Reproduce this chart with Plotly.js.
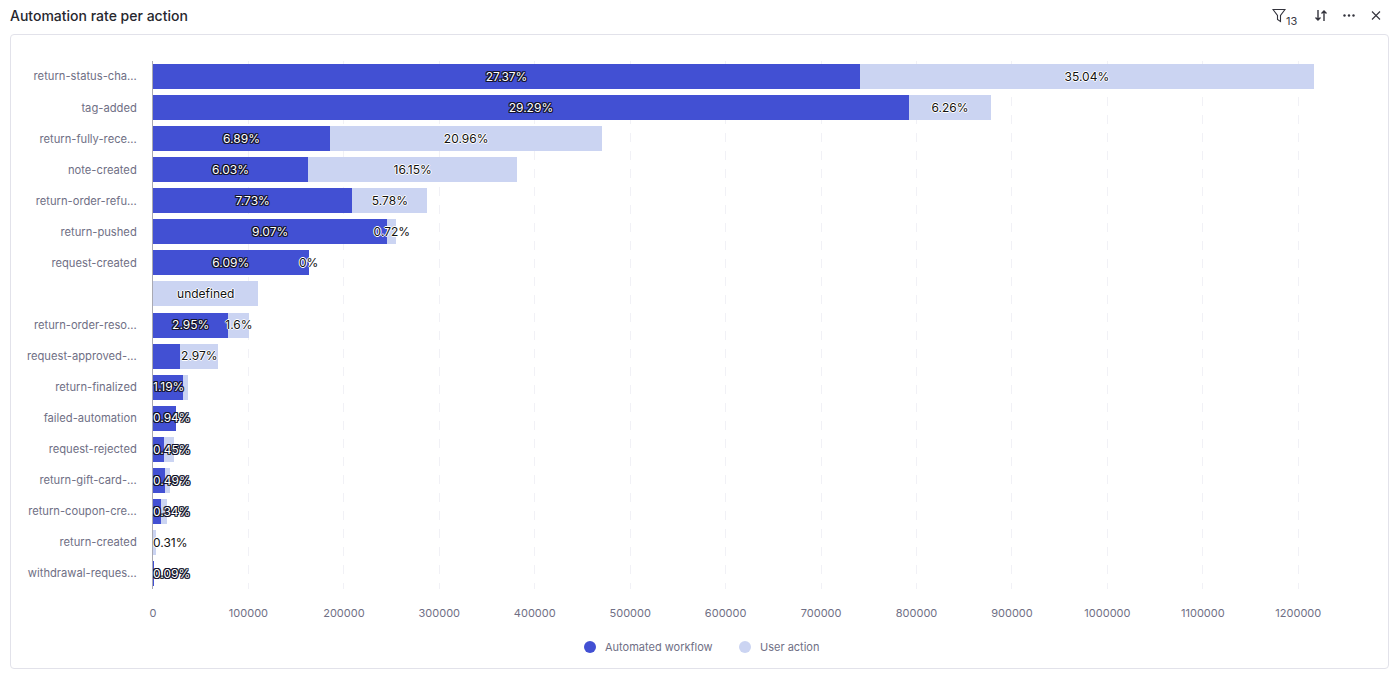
<!DOCTYPE html>
<html>
<head>
<meta charset="utf-8">
<script src="https://cdn.plot.ly/plotly-3.0.1.min.js"></script>
<style>
    html, body { margin: 0; padding: 0; background: #fff; font-family: Inter, sans-serif; }
    #card { position: absolute; left: 10px; top: 34px; width: 1379px; height: 635px; border: 1px solid #e2e2ea; border-radius: 4px; box-sizing: border-box; }
    #myDiv { position: absolute; left: 0; top: 0; width: 1395px; height: 676px; }
    .tool { position: absolute; top: 8px; }
    #count { position: absolute; left: 1286px; top: 14px; font-size: 11px; color: #3a3a44; }
    .textpoint text { transform: translateY(1.3px); }
</style>
</head>
<body>
<div id="card"></div>
<div id="myDiv"></div>
<svg class="tool" style="left:1272px" width="14" height="15" viewBox="0 0 14 15" fill="none" stroke="#33333c" stroke-width="1.1"><path d="M1 1.5h12L8.5 7.5v6l-3-2v-4z"/></svg>
<span id="count">13</span>
<svg class="tool" style="left:1314px" width="14" height="15" viewBox="0 0 14 15" fill="none" stroke="#33333c" stroke-width="1.4"><path d="M4 2v10M1.5 9.5 4 12l2.5-2.5M10 13V3M7.5 5.5 10 3l2.5 2.5"/></svg>
<svg class="tool" style="left:1342px" width="14" height="15" viewBox="0 0 14 15" fill="#33333c"><circle cx="2.5" cy="7.5" r="1.2"/><circle cx="7" cy="7.5" r="1.2"/><circle cx="11.5" cy="7.5" r="1.2"/></svg>
<svg class="tool" style="left:1369px" width="14" height="15" viewBox="0 0 14 15" fill="none" stroke="#33333c" stroke-width="1.1"><path d="M3 3.5l8 8M11 3.5l-8 8"/></svg>
<script>
const categories = ['return-status-changed', 'tag-added', 'return-fully-received', 'note-created', 'return-order-refunded',
    'return-pushed', 'request-created', 'undefined', 'return-order-resolved', 'request-approved', 'return-finalized',
    'failed-automation', 'request-rejected', 'return-gift-card', 'return-coupon-created', 'return-created', 'withdrawal-requested'];
const tick_labels = ['return-status-cha...', 'tag-added', 'return-fully-rece...', 'note-created', 'return-order-refu...',
    'return-pushed', 'request-created', '', 'return-order-reso...', 'request-approved-...', 'return-finalized',
    'failed-automation', 'request-rejected', 'return-gift-card-...', 'return-coupon-cre...', 'return-created', 'withdrawal-reques...'];
const automated = [740800, 792000, 185500, 162500, 209000, 245500, 163000, 0, 79000, 28500, 31500, 24500, 12000, 13000, 8900, 0, 800];
const user_action = [475400, 86000, 285200, 219200, 78400, 9500, 0, 110500, 22000, 40100, 5500, 0, 9500, 5300, 6100, 3500, 0];
const automated_labels = ['27.37%', '29.29%', '6.89%', '6.03%', '7.73%', '9.07%', '6.09%', '', '2.95%', '', '1.19%', '0.94%', '0.45%', '0.49%', '0.34%', '', '0.09%'];
const user_labels = ['35.04%', '6.26%', '20.96%', '16.15%', '5.78%', '0.72%', '0%', 'undefined', '1.6%', '2.97%', '', '', '', '', '', '0.31%', ''];

const BLUE = '#4250d3';
const LIGHT = '#cbd4f2';
const GREY = '#6f6f85';
const outline = c => `-1px 0 0 ${c}, 1px 0 0 ${c}, 0 -1px 0 ${c}, 0 1px 0 ${c}, -1px -1px 0 ${c}, 1px 1px 0 ${c}, 1px -1px 0 ${c}, -1px 1px 0 ${c}`;
const thin_outline = c => `-1px 0 0 ${c}, 1px 0 0 ${c}, 0 -1px 0 ${c}, 0 1px 0 ${c}`;

// a label too wide for its bar sits against the axis instead of running past it
const MIN_CENTER = 19000;
function label_trace(labels, starts, widths, color, shadow) {
    const centers = widths.map((w, i) => starts[i] + w / 2);
    return {
        type: 'scatter', mode: 'text', showlegend: false, hoverinfo: 'skip', cliponaxis: false,
        y: categories,
        x: centers.map(c => c < MIN_CENTER ? 0 : c),
        text: labels,
        textposition: centers.map(c => c < MIN_CENTER ? 'middle right' : 'middle center'),
        textfont: { family: 'Inter', size: 12, color: color, shadow: shadow }
    };
}
function legend_trace(name, color) {
    return { type: 'scatter', mode: 'markers', name: name, x: [null], y: [null], marker: { color: color, size: 12, symbol: 'circle' } };
}

var data = [
    { type: 'bar', orientation: 'h', name: 'Automated workflow', y: categories, x: automated, marker: { color: BLUE }, showlegend: false },
    { type: 'bar', orientation: 'h', name: 'User action', y: categories, x: user_action, marker: { color: LIGHT }, showlegend: false },
    label_trace(automated_labels, automated.map(() => 0), automated, '#ffffff', outline('#14142a')),
    label_trace(user_labels, automated, user_action, '#111111', thin_outline('#ffffff')),
    legend_trace('Automated workflow', BLUE),
    legend_trace('User action', LIGHT)
];

var layout = {
    width: 1395,
    height: 676,
    paper_bgcolor: 'rgba(0,0,0,0)',
    plot_bgcolor: 'rgba(0,0,0,0)',
    barmode: 'stack',
    bargap: 0.195,
    margin: { l: 152.5, r: 48.75, t: 61, b: 87, pad: 0 },
    title: { text: 'Automation rate per action', x: 10 / 1395, xanchor: 'left', y: 1 - 16 / 676, yanchor: 'middle', font: { family: 'Inter', size: 14, weight: 500, color: '#27272e' } },
    font: { family: 'Inter', size: 11, color: GREY },
    xaxis: {
        range: [0, 1250000],
        tickmode: 'linear', tick0: 0, dtick: 100000, tickformat: 'd',
        showgrid: true, gridcolor: '#f1f1f6', griddash: 'dash', gridwidth: 1,
        zeroline: false, showline: false, ticks: '', ticklabelstandoff: 16,
        tickfont: { family: 'Inter', size: 11, color: GREY }
    },
    yaxis: {
        type: 'category', categoryorder: 'array', categoryarray: categories, range: [16.5, -0.5],
        tickmode: 'array', tickvals: categories, ticktext: tick_labels,
        showgrid: false, zeroline: false, showline: true, linecolor: '#a9a9b2', linewidth: 1, ticks: '', ticklabelstandoff: 13, ticklabelshift: -0.5,
        tickfont: { family: 'Inter', size: 11.2, color: GREY }
    },
    legend: {
        orientation: 'h', traceorder: 'normal', xref: 'container', yref: 'container', x: 725 / 1395, xanchor: 'center', y: 1 - 647 / 676, yanchor: 'middle',
        indentation: -5, entrywidth: 115,
        font: { family: 'Inter', size: 11, color: GREY }
    }
};
Plotly.newPlot('myDiv', data, layout, { displayModeBar: false }).then(() => {
    // plotly keeps 20px between legend symbol and text, the original has 15
    document.querySelectorAll('.legendsymbols').forEach(g => g.setAttribute('transform', 'translate(5,0)'));
});
</script>
</body>
</html>
